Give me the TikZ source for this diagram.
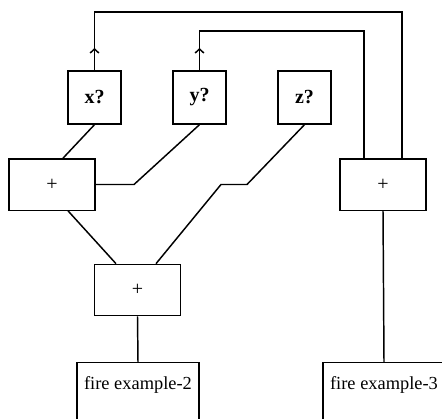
\documentclass[tikz,border=0pt]{standalone}
\usepackage{fontspec}
\setmainfont{Liberation Serif}
\usetikzlibrary{positioning}
\usetikzlibrary{arrows.meta}
\usetikzlibrary{calc}
\tikzset{
    qbox/.style = {rectangle, draw=black, line width=1pt, minimum width=39.75pt, minimum height=39.75pt, inner sep=0pt, font=\fontsize{15}{18}\selectfont\bfseries},
    sumbox/.style = {rectangle, draw=black, line width=1pt, minimum width=64.5pt, minimum height=38.5pt, inner sep=0pt, font=\fontsize{15}{18}\selectfont},
    firebox/.style = {rectangle, draw=black, line width=1pt, minimum width=91.5pt, inner xsep=0pt, inner ysep=0pt, text height=20pt, text depth=45pt, anchor=north, font=\fontsize{13.8}{16}\selectfont},
    wire/.style = {-, line width=1.1pt, black},
    wirea/.style = {-{Straight Barb[length=3pt,width=6.5pt]}, line width=1.1pt, black}
}

\begin{document}
\begin{tikzpicture}[x=0.75pt,y=-0.75pt]
\useasboundingbox (0,0) rectangle (442,418);
\clip (0,0) rectangle (442,418);

\node[qbox] at ( 94.5, 97.5) (xq) {x?};
\node[qbox] at (199.5, 97.5) (yq) {y?};
\node[qbox] at (304.5, 97.5) (zq) {z?};

\node[sumbox] at ( 52.0, 184.5) (lsum) {+};
\node[sumbox] at (383.0, 184.5) (rsum) {+};
\node[sumbox] at (137.5, 290.0) (bsum) {+};

\node[firebox] at (138.0, 362.0) (fire2) {fire example-2};
\node[firebox] at (384.0, 362.0) (fire3) {fire example-3};

% feedback loops
\coordinate (xtip) at ( 94.5, 48);
\coordinate (ytip) at (199.5, 48);
\coordinate (otl) at ( 94.5, 12);
\coordinate (otr) at (402.0, 12);
\coordinate (itl) at (199.5, 31);
\coordinate (itr) at (364.0, 31);

\draw[wire] (xq.north) -- (otl) -- (otr) -- (otr |- rsum.north);
\draw[wire] (yq.north) -- (itl) -- (itr) -- (itr |- rsum.north);
\draw[wirea] (xq.north) -- (xtip);
\draw[wirea] (yq.north) -- (ytip);

% tree
\coordinate (ybend) at (134, 184.5);
\coordinate (zbend1) at (247, 184.5);
\coordinate (zbend2) at (221, 184.5);

\draw[wire] (xq.south) -- ($(lsum.north)+(11,0)$);
\draw[wire] (yq.south) -- (ybend) -- (lsum.east);
\draw[wire] (zq.south) -- (zbend1) -- (zbend2) -- ($(bsum.north)+(18.5,0)$);
\draw[wire] ($(lsum.south)+(16,0)$) -- ($(bsum.north)+(-21.5,0)$);
\draw[wire] (bsum.south) -- (fire2.north);
\draw[wire] (rsum.south) -- (fire3.north);

\end{tikzpicture}
\end{document}
